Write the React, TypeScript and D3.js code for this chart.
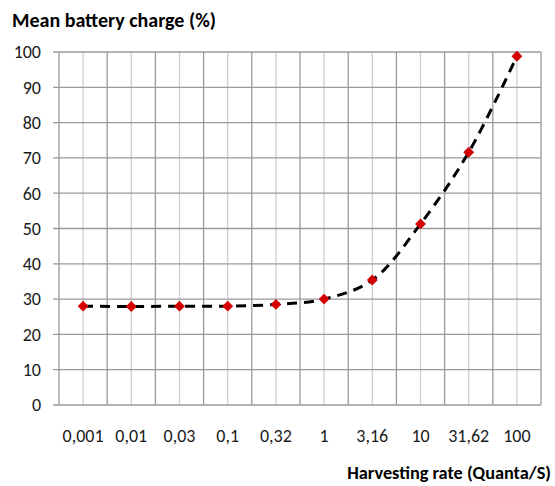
import React from "react";
import * as d3 from "d3";

const categories = ["0,001", "0,01", "0,03", "0,1", "0,32", "1", "3,16", "10", "31,62", "100"];
const charge = [28.0, 27.9, 28.0, 28.0, 28.5, 30.0, 35.4, 51.3, 71.6, 98.8];
const yTicks = [0, 10, 20, 30, 40, 50, 60, 70, 80, 90, 100];

const W = 555, H = 486;
const left = 59, right = 541, top = 52, bottom = 405;
const font = "Calibri, Carlito, 'Open Sans', 'Liberation Sans', sans-serif";

export default function App() {
  const x = d3.scaleBand<string>().domain(categories).range([left, right]);
  const y = d3.scaleLinear().domain([0, 100]).range([bottom, top]);
  const cx = (c: string) => (x(c) as number) + x.bandwidth() / 2;
  const line = d3
    .line<number>()
    .x((_, i) => cx(categories[i]))
    .y((d) => y(d))
    .curve(d3.curveCatmullRom.alpha(0.5));
  const diamond = d3.symbol().type(d3.symbolDiamond2).size(75)();
  return (
    <svg width={W} height={H} style={{ position: "absolute", left: 0, top: 0, background: "#fff" }}>
      <rect x={0} y={0} width={W} height={H} fill="#fff" />
      {categories.map((c) => (
        <line key={"m" + c} x1={cx(c)} x2={cx(c)} y1={top} y2={bottom} stroke="#cfcfcf" strokeWidth={1.3} />
      ))}
      {categories.map((c) => (
        <line key={"M" + c} x1={x(c)} x2={x(c)} y1={top} y2={bottom} stroke="#9a9a9a" strokeWidth={1.3} />
      ))}
      <line x1={right} x2={right} y1={top} y2={bottom} stroke="#9a9a9a" strokeWidth={1.3} />
      {yTicks.map((t) => (
        <line key={"h" + t} x1={53} x2={right} y1={y(t)} y2={y(t)} stroke="#9a9a9a" strokeWidth={1.3} />
      ))}
      {yTicks.map((t) => (
        <text key={"t" + t} x={41} y={y(t)} dy="0.35em" textAnchor="end" fontFamily={font} fontSize={18} fill="#1a1a1a">
          {t}
        </text>
      ))}
      {categories.map((c) => (
        <text key={"x" + c} x={cx(c)} y={436} dy="0.35em" textAnchor="middle" fontFamily={font} fontSize={18} fill="#1a1a1a">
          {c}
        </text>
      ))}
      <path d={line(charge) || ""} fill="none" stroke="#000" strokeWidth={3} strokeDasharray="10,7" />
      {charge.map((v, i) => (
        <path key={"p" + i} d={diamond || ""} transform={`translate(${cx(categories[i])},${y(v)})`} fill="#d40000" />
      ))}
      <text x={12} y={27} fontFamily={font} fontSize={20} fontWeight="bold" fill="#000">
        Mean battery charge (%)
      </text>
      <text x={551} y={479} textAnchor="end" fontFamily={font} fontSize={18.3} fontWeight="bold" fill="#000">
        Harvesting rate (Quanta/S)
      </text>
    </svg>
  );
}
